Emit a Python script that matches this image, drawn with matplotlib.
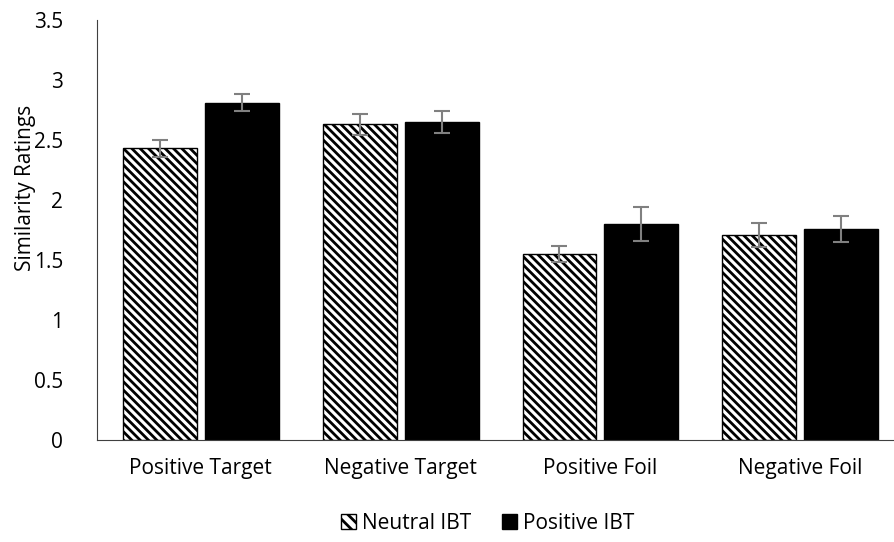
import numpy as np
import matplotlib.pyplot as plt
from matplotlib.patches import Patch

# data
categories = ["Positive Target", "Negative Target", "Positive Foil", "Negative Foil"]
neutral_ibt = [2.43, 2.63, 1.55, 1.71]
neutral_err = [0.07, 0.09, 0.07, 0.10]
positive_ibt = [2.81, 2.65, 1.80, 1.76]
positive_err = [0.07, 0.09, 0.14, 0.11]

plt.rcParams['font.family'] = ['Open Sans', 'DejaVu Sans']
plt.rcParams['hatch.linewidth'] = 2.0

fig = plt.figure(figsize=(8.95, 5.42), dpi=100)
ax = fig.add_axes([0.108, 0.188, 0.898, 0.775])

x = np.arange(len(categories))
w = 0.37
gap = 0.02

ax.bar(x - w / 2 - gap, neutral_ibt, w, color='white', edgecolor='black',
       hatch='\\\\\\\\', linewidth=1.0, label='Neutral IBT')
ax.bar(x + w / 2 + gap, positive_ibt, w, color='black', edgecolor='black',
       linewidth=1.0, label='Positive IBT')
ax.errorbar(x - w / 2 - gap, neutral_ibt, yerr=neutral_err, fmt='none',
            ecolor='#808080', elinewidth=1.5, capsize=6, capthick=1.5)
ax.errorbar(x + w / 2 + gap, positive_ibt, yerr=positive_err, fmt='none',
            ecolor='#808080', elinewidth=1.5, capsize=6, capthick=1.5)

ax.set_xlim(-0.52, len(categories) - 0.5)
ax.set_ylim(0, 3.5)
ax.set_yticks(np.arange(0, 3.6, 0.5))
ax.set_yticklabels(['0', '0.5', '1', '1.5', '2', '2.5', '3', '3.5'])
ax.set_xticks(x)
ax.set_xticklabels(categories)
ax.tick_params(axis='both', length=0, labelsize=15)
ax.tick_params(axis='x', pad=13)
ax.tick_params(axis='y', pad=24)
ax.set_ylabel("Similarity Ratings", fontsize=15, labelpad=4)
ax.yaxis.set_label_coords(-0.075, 0.6)

for s in ['top', 'right']:
    ax.spines[s].set_visible(False)
ax.spines['left'].set_color('#404040')
ax.spines['bottom'].set_color('#404040')

handles = [Patch(facecolor='white', edgecolor='black', hatch='\\\\\\', label='Neutral IBT'),
           Patch(facecolor='black', edgecolor='black', label='Positive IBT')]
fig.legend(handles=handles, loc='center', bbox_to_anchor=(0.545, 0.035), ncol=2,
           frameon=False, fontsize=15, handlelength=0.7, handleheight=0.7,
           handletextpad=0.3, columnspacing=1.5)

fig.savefig("out.png", dpi=100)
